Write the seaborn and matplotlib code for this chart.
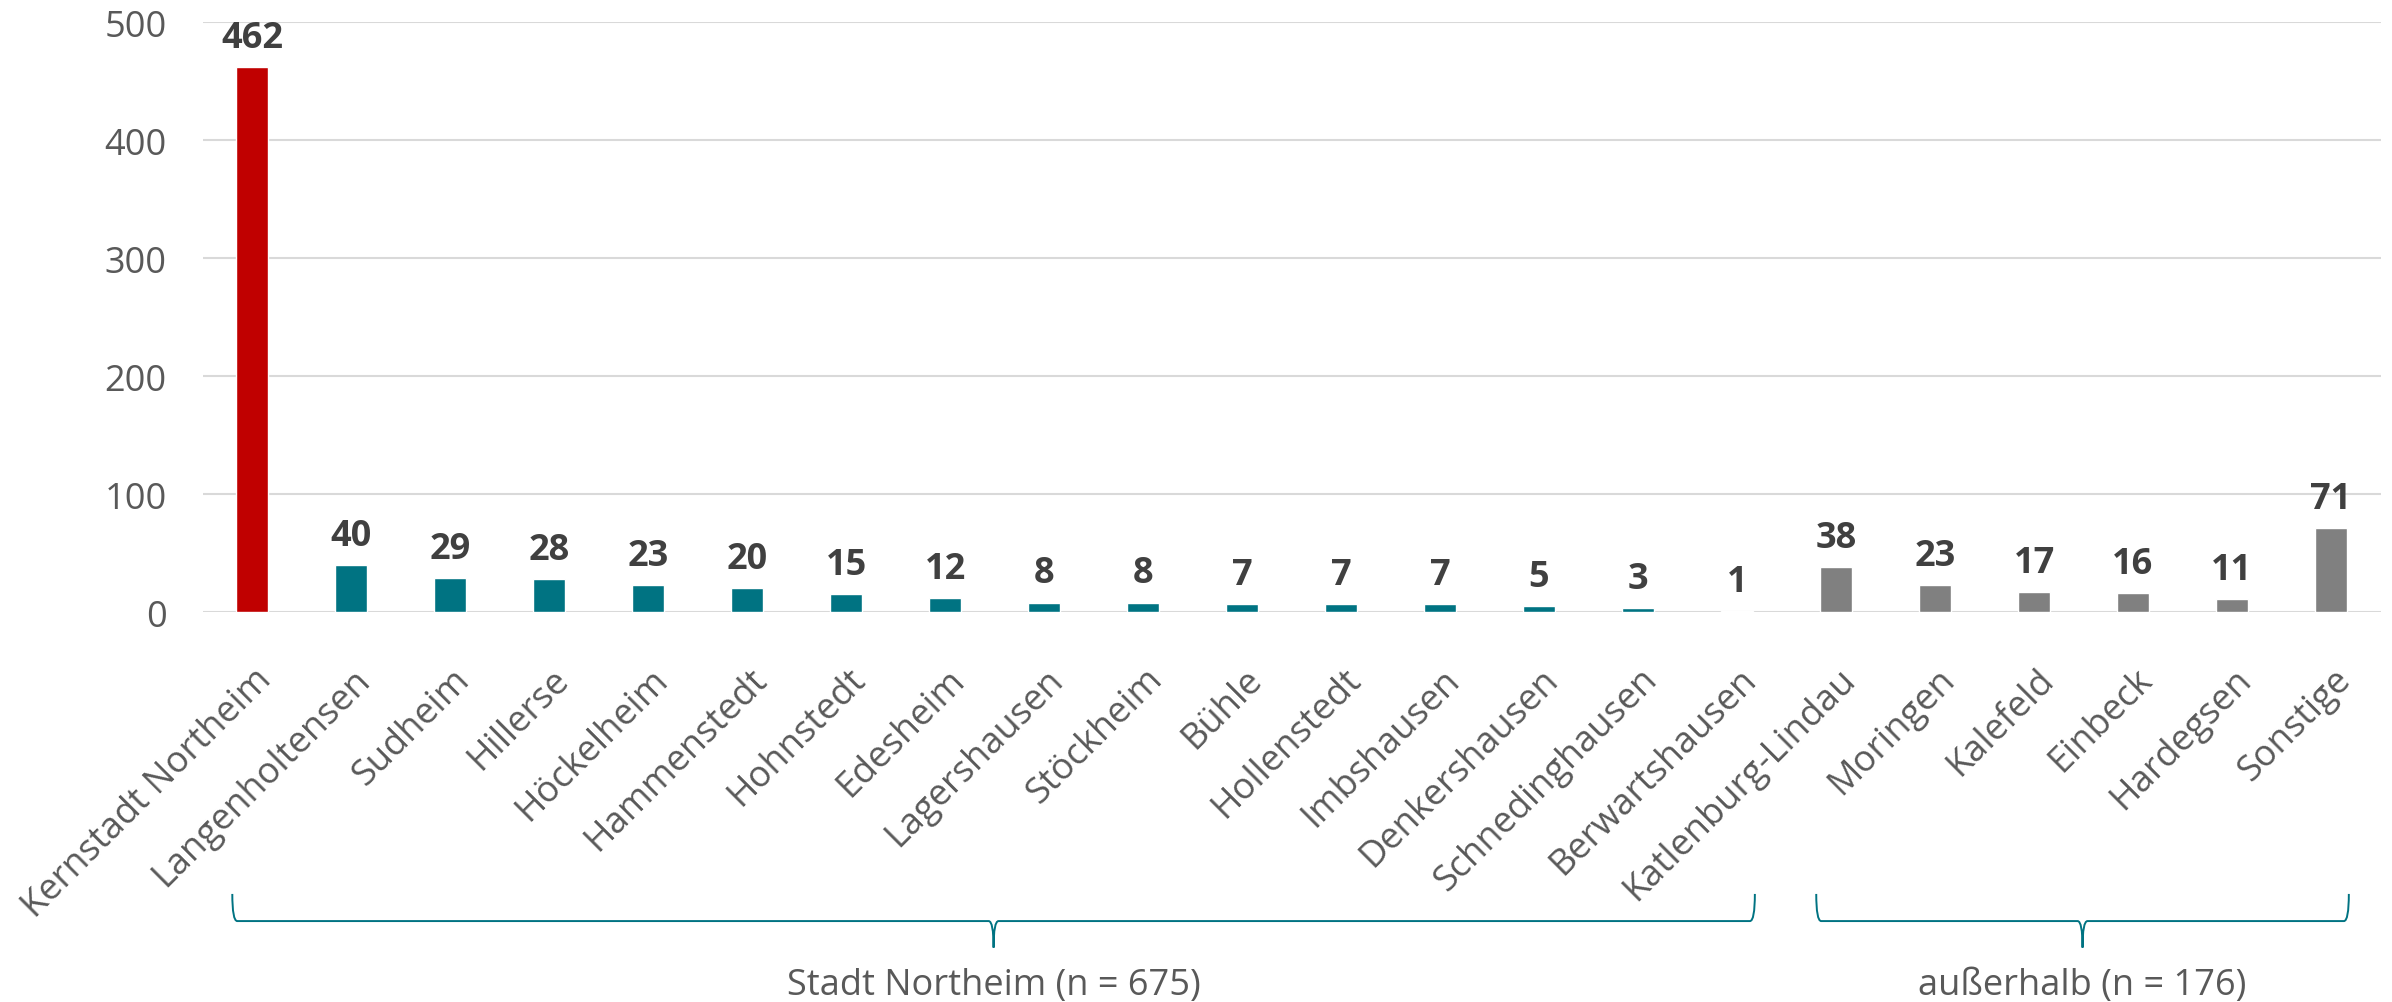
import numpy as np
import pandas as pd
import matplotlib
matplotlib.use("Agg")
import matplotlib.pyplot as plt
import seaborn as sns
from matplotlib.path import Path
from matplotlib.patches import PathPatch
from matplotlib.transforms import ScaledTranslation, blended_transform_factory

# data
orte = ["Kernstadt Northeim", "Langenholtensen", "Sudheim", "Hillerse", "Höckelheim",
        "Hammenstedt", "Hohnstedt", "Edesheim", "Lagershausen", "Stöckheim", "Bühle",
        "Hollenstedt", "Imbshausen", "Denkershausen", "Schnedinghausen", "Berwartshausen",
        "Katlenburg-Lindau", "Moringen", "Kalefeld", "Einbeck", "Hardegsen", "Sonstige"]
anzahl = [462, 40, 29, 28, 23, 20, 15, 12, 8, 8, 7, 7, 7, 5, 3, 1,
          38, 23, 17, 16, 11, 71]
gruppen = ["Stadt Northeim (n = 675)", "außerhalb (n = 176)"]
gruppen_von = [0, 16]
gruppen_bis = [15, 21]

rot = "#C00000"
teal = "#007382"
grau = "#808080"
farben = [rot] + [teal] * 15 + [grau] * 6

sns.set_style("white")
plt.rcParams["font.family"] = ["Open Sans", "DejaVu Sans"]

df = pd.DataFrame({"ort": orte, "anzahl": anzahl})

fig = plt.figure(figsize=(23.92, 10.03), dpi=100)
ax = fig.add_axes([0.0847, 0.3888, 0.9105, 0.588])

sns.barplot(data=df, x="ort", y="anzahl", hue="ort", palette=farben,
            legend=False, width=0.32, ax=ax, saturation=1)

ax.set_ylim(0, 500)
ax.set_xlim(-0.5, len(orte) - 0.5)
ax.set_yticks(range(0, 501, 100))
ax.yaxis.grid(True, color="#D9D9D9", linewidth=1.5)
ax.set_axisbelow(True)
sns.despine(ax=ax, left=True, bottom=True)
ax.set_xlabel("")
ax.set_ylabel("")
ax.tick_params(axis="y", length=0, pad=26, labelsize=26, labelcolor="#595959")
ax.tick_params(axis="x", length=0, pad=49, labelsize=26, labelcolor="#595959")

# x labels schraeg
for lab in ax.get_xticklabels():
    lab.set_rotation(45)
    lab.set_ha("right")
    lab.set_va("baseline")
    lab.set_rotation_mode("anchor")
    lab.set_transform(lab.get_transform() + ScaledTranslation(15 / 72, 0, fig.dpi_scale_trans))

# werte ueber den balken
for i, v in enumerate(anzahl):
    ax.annotate(str(v), (i, v), xytext=(0, 14.5), textcoords="offset points",
                ha="center", va="baseline", fontsize=26,
                fontweight="bold", color="#404040")

# geschweifte klammern unter den labels
trans = blended_transform_factory(ax.transData, ax.transAxes)
yt, yh, yb = -0.478, -0.524, -0.569
for name, a, b in zip(gruppen, gruppen_von, gruppen_bis):
    x0, x1 = a - 0.2, b + 0.18
    xm = (x0 + x1) / 2
    r = 0.05
    verts = [(x0, yt), (x0, yh), (x0 + r, yh),
             (xm - r, yh), (xm, yh), (xm, yb),
             (xm, yh), (xm + r, yh),
             (x1 - r, yh), (x1, yh), (x1, yt)]
    codes = [Path.MOVETO, Path.CURVE3, Path.CURVE3,
             Path.LINETO, Path.CURVE3, Path.CURVE3,
             Path.CURVE3, Path.CURVE3,
             Path.LINETO, Path.CURVE3, Path.CURVE3]
    ax.add_patch(PathPatch(Path(verts, codes), transform=trans, fill=False,
                           edgecolor=teal, linewidth=1.4, clip_on=False))
    ax.text(xm, -0.647, name, transform=trans, ha="center", va="baseline",
            fontsize=26, color="#595959")

fig.savefig("out.png", dpi=100)
